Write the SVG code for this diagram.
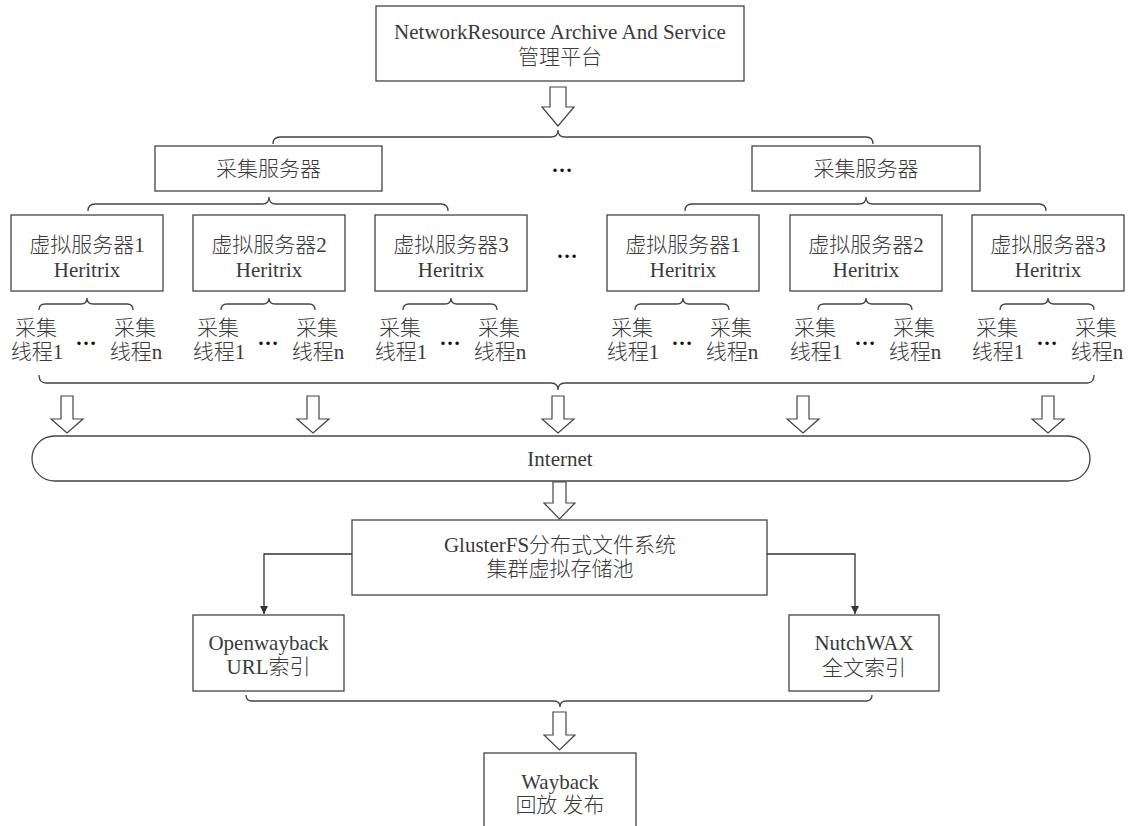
<svg xmlns="http://www.w3.org/2000/svg" width="1128" height="826" viewBox="0 0 1128 826">
<defs>
<style>
.box{fill:#fff;stroke:#444;stroke-width:1.3}
.t{font-family:"Liberation Serif","Noto Sans CJK SC",serif;font-size:21px;fill:#3a3a3a;text-anchor:middle;font-weight:300}
.d{font-family:"Liberation Serif",serif;font-size:21px;fill:#111;text-anchor:middle;font-weight:bold}
.br{fill:none;stroke:#444;stroke-width:1.3}
.ha{fill:#fff;stroke:#444;stroke-width:1.2;stroke-linejoin:miter}
.ln{fill:none;stroke:#333;stroke-width:1.3}
</style>
<marker id="ah" viewBox="0 0 10 10" refX="10" refY="5" markerWidth="8" markerHeight="8" markerUnits="userSpaceOnUse" orient="auto">
<path d="M0,0 L10,5 L0,10 Z" fill="#333"/>
</marker>
</defs>
<rect width="1128" height="826" fill="#fff"/>

<g id="platform">
<rect class="box" x="376" y="6" width="368" height="75"/>
<text class="t" x="560" y="39">NetworkResource Archive And Service</text>
<text class="t" x="560" y="64">管理平台</text>
</g>

<g id="collector-left">
<rect class="box" x="155" y="146" width="227" height="45"/>
<text class="t" x="268.5" y="176">采集服务器</text>
</g>
<g id="collector-right">
<rect class="box" x="752" y="146" width="228" height="45"/>
<text class="t" x="866" y="176">采集服务器</text>
</g>
<text class="d" x="562" y="172">…</text>

<g id="vs-l1">
<rect class="box" x="11" y="215" width="152" height="76"/>
<text class="t" x="87" y="252">虚拟服务器1</text>
<text class="t" x="87" y="277">Heritrix</text>
</g>
<g id="vs-l2">
<rect class="box" x="193" y="215" width="152" height="76"/>
<text class="t" x="269" y="252">虚拟服务器2</text>
<text class="t" x="269" y="277">Heritrix</text>
</g>
<g id="vs-l3">
<rect class="box" x="375" y="215" width="152" height="76"/>
<text class="t" x="451" y="252">虚拟服务器3</text>
<text class="t" x="451" y="277">Heritrix</text>
</g>
<text class="d" x="567" y="258">…</text>
<g id="vs-r1">
<rect class="box" x="607" y="215" width="152" height="76"/>
<text class="t" x="683" y="252">虚拟服务器1</text>
<text class="t" x="683" y="277">Heritrix</text>
</g>
<g id="vs-r2">
<rect class="box" x="790" y="215" width="152" height="76"/>
<text class="t" x="866" y="252">虚拟服务器2</text>
<text class="t" x="866" y="277">Heritrix</text>
</g>
<g id="vs-r3">
<rect class="box" x="972" y="215" width="152" height="76"/>
<text class="t" x="1048" y="252">虚拟服务器3</text>
<text class="t" x="1048" y="277">Heritrix</text>
</g>

<g id="threads-l1">
<text class="t" x="36" y="335">采集</text><text class="t" x="37" y="359">线程1</text>
<text class="d" x="86" y="345">…</text>
<text class="t" x="135" y="335">采集</text><text class="t" x="136" y="359">线程n</text>
</g>
<g id="threads-l2">
<text class="t" x="218" y="335">采集</text><text class="t" x="219" y="359">线程1</text>
<text class="d" x="268" y="345">…</text>
<text class="t" x="317" y="335">采集</text><text class="t" x="318" y="359">线程n</text>
</g>
<g id="threads-l3">
<text class="t" x="400" y="335">采集</text><text class="t" x="401" y="359">线程1</text>
<text class="d" x="450" y="345">…</text>
<text class="t" x="499" y="335">采集</text><text class="t" x="500" y="359">线程n</text>
</g>
<g id="threads-r1">
<text class="t" x="632" y="335">采集</text><text class="t" x="633" y="359">线程1</text>
<text class="d" x="682" y="345">…</text>
<text class="t" x="731" y="335">采集</text><text class="t" x="732" y="359">线程n</text>
</g>
<g id="threads-r2">
<text class="t" x="815" y="335">采集</text><text class="t" x="816" y="359">线程1</text>
<text class="d" x="865" y="345">…</text>
<text class="t" x="914" y="335">采集</text><text class="t" x="915" y="359">线程n</text>
</g>
<g id="threads-r3">
<text class="t" x="997" y="335">采集</text><text class="t" x="998" y="359">线程1</text>
<text class="d" x="1047" y="345">…</text>
<text class="t" x="1096" y="335">采集</text><text class="t" x="1097" y="359">线程n</text>
</g>

<g id="internet">
<rect class="box" x="32" y="436" width="1058" height="45" rx="22.5" ry="22.5"/>
<text class="t" x="560" y="466">Internet</text>
</g>

<g id="glusterfs">
<rect class="box" x="352" y="520" width="415" height="75"/>
<text class="t" x="560" y="552">GlusterFS分布式文件系统</text>
<text class="t" x="560" y="576">集群虚拟存储池</text>
</g>

<g id="openwayback">
<rect class="box" x="193" y="615" width="151" height="76"/>
<text class="t" x="268.5" y="650">Openwayback</text>
<text class="t" x="268.5" y="674">URL索引</text>
</g>

<g id="nutchwax">
<rect class="box" x="789" y="615" width="150" height="76"/>
<text class="t" x="864" y="650">NutchWAX</text>
<text class="t" x="864" y="675">全文索引</text>
</g>

<g id="wayback">
<rect class="box" x="484" y="753" width="152" height="80"/>
<text class="t" x="560" y="789">Wayback</text>
<text class="t" x="560" y="812">回放 发布</text>
</g>

<g id="connectors">
<path class="ha" d="M550,87 L566,87 L566,107 L574,107 L558,126 L542,107 L550,107 Z"/>
<path class="ha" d="M61,396 L73,396 L73,419 L83,419 L67,433 L51,419 L61,419 Z"/>
<path class="ha" d="M307,396 L319,396 L319,419 L329,419 L313,433 L297,419 L307,419 Z"/>
<path class="ha" d="M552,396 L564,396 L564,419 L574,419 L558,433 L542,419 L552,419 Z"/>
<path class="ha" d="M797,396 L809,396 L809,419 L819,419 L803,433 L787,419 L797,419 Z"/>
<path class="ha" d="M1042,396 L1054,396 L1054,419 L1064,419 L1048,433 L1032,419 L1042,419 Z"/>
<path class="ha" d="M553,482 L566,482 L566,503 L575,503 L559.5,519 L544,503 L553,503 Z"/>
<path class="ha" d="M553,712 L566,712 L566,735 L575,735 L559.5,750 L544,735 L553,735 Z"/>
<path class="br" d="M273,144 Q273,137 280,137 L551,137 Q558,137 558,130 Q558,137 565,137 L866,137 Q873,137 873,144"/>
<path class="br" d="M88,211 Q88,204 95,204 L262,204 Q269,204 269,197 Q269,204 276,204 L441,204 Q448,204 448,211"/>
<path class="br" d="M685,211 Q685,204 692,204 L859,204 Q866,204 866,197 Q866,204 873,204 L1039,204 Q1046,204 1046,211"/>
<path class="br" d="M39,310 Q39,304 45,304 L81,304 Q87,304 87,298 Q87,304 93,304 L127,304 Q133,304 133,310"/>
<path class="br" d="M221,310 Q221,304 227,304 L263,304 Q269,304 269,298 Q269,304 275,304 L309,304 Q315,304 315,310"/>
<path class="br" d="M403,310 Q403,304 409,304 L445,304 Q451,304 451,298 Q451,304 457,304 L491,304 Q497,304 497,310"/>
<path class="br" d="M635,310 Q635,304 641,304 L677,304 Q683,304 683,298 Q683,304 689,304 L723,304 Q729,304 729,310"/>
<path class="br" d="M818,310 Q818,304 824,304 L860,304 Q866,304 866,298 Q866,304 872,304 L906,304 Q912,304 912,310"/>
<path class="br" d="M1000,310 Q1000,304 1006,304 L1042,304 Q1048,304 1048,298 Q1048,304 1054,304 L1088,304 Q1094,304 1094,310"/>
<path class="br" d="M39,375 Q39,383 46,383 L551,383 Q558,383 558,390 Q558,383 565,383 L1087,383 Q1094,383 1094,375"/>
<path class="br" d="M246,695 Q246,701 252,701 L554,701 Q560,701 560,707 Q560,701 566,701 L866,701 Q872,701 872,695"/>
<path class="ln" d="M352,554 L264,554 L264,614" marker-end="url(#ah)"/>
<path class="ln" d="M767,554 L855,554 L855,614" marker-end="url(#ah)"/>
</g>
</svg>
